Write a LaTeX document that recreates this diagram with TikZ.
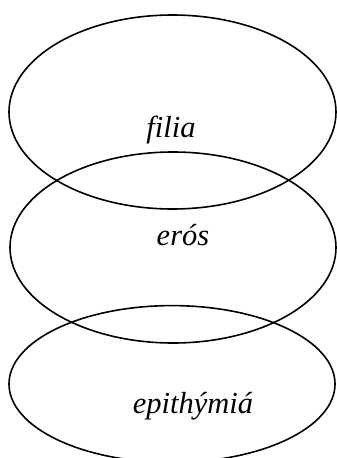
\documentclass[tikz,border=0pt]{standalone}
\usepackage{fontspec}
\setmainfont{Liberation Serif}
\begin{document}
\begin{tikzpicture}[x=1pt,y=-1pt,line width=1.6pt,
    word/.style={font=\fontsize{30.5}{36}\selectfont\itshape,anchor=base,inner sep=0pt}]
    \useasboundingbox (0,0) rectangle (337,458);
    \clip (0,0) rectangle (337,458);
    % the three loves
    \draw (172.5,112) ellipse [x radius=163.5, y radius=97];
    \draw (173,247.5) ellipse [x radius=163, y radius=95.5];
    \draw (172,384) ellipse [x radius=163, y radius=78.4];
    \node[word] (filia) at (171,137) {filia};
    \node[word] (eros) at (183,245) {erós};
    \node[word] (epithymia) at (193,413) {epithýmiá};
\end{tikzpicture}
\end{document}
